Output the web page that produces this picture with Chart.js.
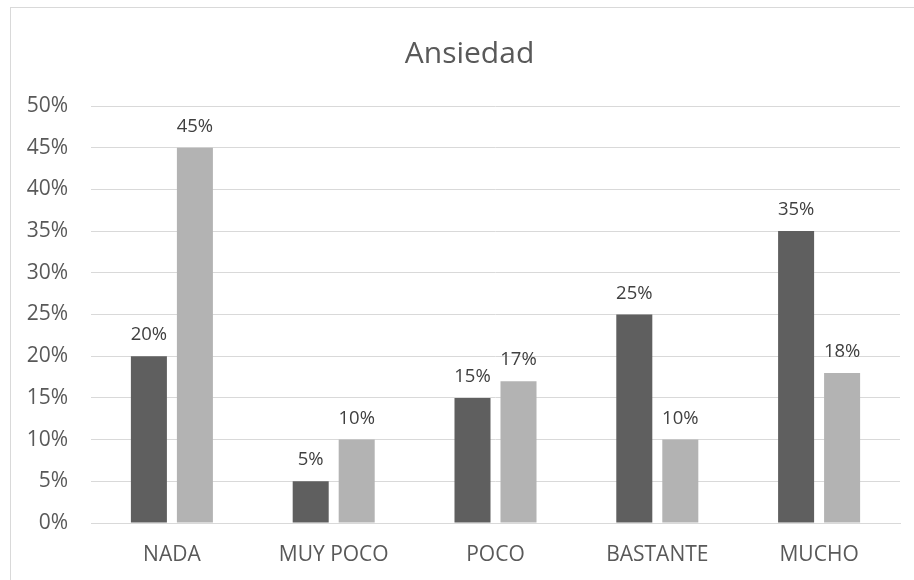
<!DOCTYPE html>
<html>
<head>
<meta charset="utf-8">
<script src="https://cdn.jsdelivr.net/npm/chart.js@4/dist/chart.umd.min.js"></script>
<style>
html,body{margin:0;padding:0;background:#fff;}
#wrap{width:914px;height:580px;position:relative;}
</style>
</head>
<body>
<div id="wrap"><canvas id="c" width="914" height="580"></canvas></div>
<script>
const categories = ["NADA", "MUY POCO", "POCO", "BASTANTE", "MUCHO"];
const seriesA = [20, 5, 15, 25, 35];
const seriesB = [45, 10, 17, 10, 18];
const titleText = "Ansiedad";
const yMin = 0, yMax = 50, yStep = 5;

const frame = {
  id: 'frame',
  beforeDraw(chart) {
    const ctx = chart.ctx;
    ctx.save();
    ctx.fillStyle = '#ffffff';
    ctx.fillRect(0, 0, chart.width, chart.height);
    ctx.strokeStyle = '#d9d9d9';
    ctx.lineWidth = 1;
    ctx.strokeRect(10.5, 7.5, 1200, 1200);
    ctx.restore();
  },
  afterDraw(chart) {
    const ctx = chart.ctx;
    ctx.save();
    ctx.fillStyle = '#595959';
    ctx.font = '400 30px "Open Sans"';
    ctx.textAlign = 'center';
    ctx.textBaseline = 'alphabetic';
    ctx.fillText(titleText, 469.5, 63);
    ctx.restore();
  }
};

const labelsPlugin = {
  id: 'valueLabels',
  afterDatasetsDraw(chart) {
    const ctx = chart.ctx;
    ctx.save();
    ctx.fillStyle = '#404040';
    ctx.font = '18.5px "Open Sans"';
    ctx.textAlign = 'center';
    ctx.textBaseline = 'alphabetic';
    chart.data.datasets.forEach((ds, i) => {
      const meta = chart.getDatasetMeta(i);
      meta.data.forEach((bar, j) => {
        ctx.fillText(ds.data[j] + '%', bar.x, bar.y - 16);
      });
    });
    ctx.restore();
  }
};

new Chart(document.getElementById('c'), {
  type: 'bar',
  data: {
    labels: categories,
    datasets: [
      { data: seriesA, backgroundColor: '#5f5f5f', categoryPercentage: 0.5686, barPercentage: 0.783 },
      { data: seriesB, backgroundColor: '#b3b3b3', categoryPercentage: 0.5686, barPercentage: 0.783 }
    ]
  },
  options: {
    responsive: false,
    animation: false,
    devicePixelRatio: 1,
    layout: { padding: { top: 106, right: 14, bottom: 0, left: 0 } },
    plugins: { legend: { display: false }, tooltip: { enabled: false }, title: { display: false } },
    scales: {
      x: {
        grid: { display: false, drawTicks: false },
        border: { display: true, color: '#d9d9d9', width: 1 },
        ticks: { color: '#595959', font: { family: 'Open Sans', size: 21 }, padding: 19, maxRotation: 0 },
        afterFit(s) { s.height = 57; }
      },
      y: {
        min: yMin, max: yMax,
        grid: { color: '#d9d9d9', drawTicks: false, lineWidth: 1 },
        border: { display: false },
        ticks: { stepSize: yStep, color: '#595959', font: { family: 'Open Sans', size: 21 }, padding: 23,
                 callback: v => v + '%' },
        afterFit(s) { s.width = 91; }
      }
    }
  },
  plugins: [frame, labelsPlugin]
});
</script>
</body>
</html>
